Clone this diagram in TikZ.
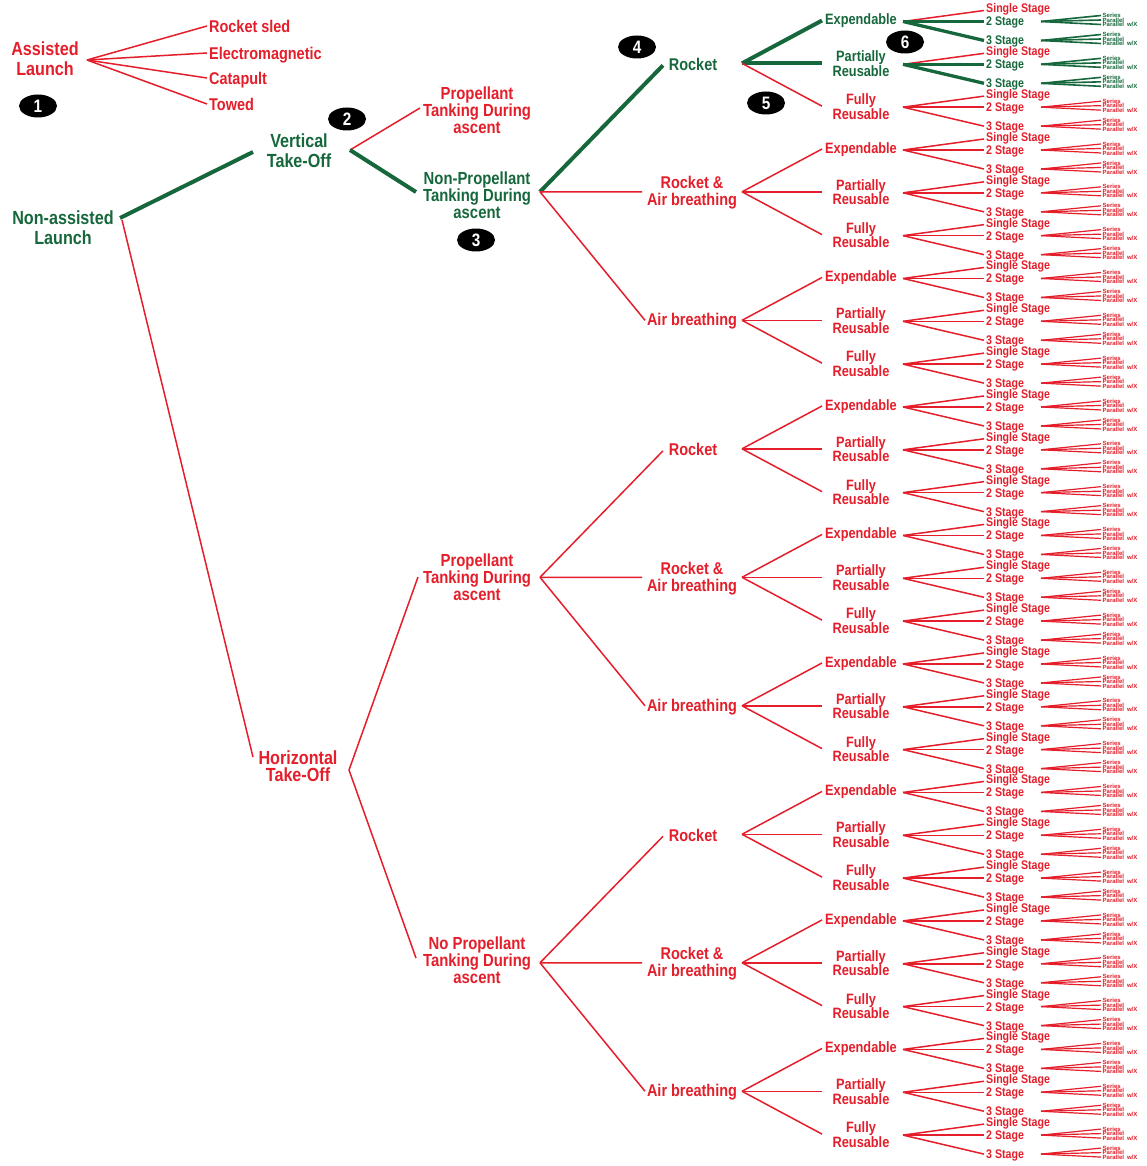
\documentclass[tikz,border=0pt]{standalone}
\usepackage{fontspec}
\setmainfont{Liberation Sans}[FakeStretch=0.85]
\newfontfamily\leaffont{Liberation Sans}
\usetikzlibrary{shapes.geometric}
\definecolor{rd}{RGB}{228,30,42}
\definecolor{gn}{RGB}{22,104,60}
\newcommand\pwxlabel{Parallel\hspace{3pt}w/X}
\begin{document}
\begin{tikzpicture}[x=1pt,y=-1pt,
  lbl/.style={inner sep=0pt, align=center},
  t0/.style={lbl, font=\fontsize{19}{20}\selectfont\bfseries},
  t0c/.style={inner sep=0pt, font=\fontsize{17}{17}\selectfont\bfseries, text height=12.2pt, text depth=0pt},
  t2/.style={lbl, font=\fontsize{17.5}{17}\selectfont\bfseries},
  t3/.style={lbl, font=\fontsize{17}{17}\selectfont\bfseries},
  t4/.style={lbl, font=\fontsize{15}{14.5}\selectfont\bfseries},
  t5/.style={inner sep=0pt, font=\fontsize{12.5}{12.5}\selectfont\bfseries, text height=9pt, text depth=0pt},
  t6/.style={inner sep=0pt, font=\leaffont\fontsize{6}{6}\selectfont\bfseries, text height=4.3pt, text depth=0pt},
  rl/.style={draw=rd, line width=1.5pt},
  gl/.style={draw=gn, line width=4pt},
  gs/.style={draw=gn, line width=3.3pt},
  rll/.style={draw=rd, line width=1.2pt},
  gll/.style={draw=gn, line width=1.6pt},
  badge/.style={ellipse, fill=black, minimum width=38pt, minimum height=23pt, inner sep=0pt, text=white, font=\fontsize{18}{18}\selectfont\bfseries}
]
\fill[white] (0,0) rectangle (1147,1166);
\useasboundingbox (0,0) rectangle (1147,1166);

% ---------- level 0: assisted launch ----------
\node[t0, text=rd] (al) at (45,59) {Assisted\\Launch};
\coordinate (alo) at (87,60);
\foreach \n/\t/\y in {rs/Rocket sled/26, em/Electromagnetic/53, ca/Catapult/78, tw/Towed/104}{
  \node[t0c, text=rd, anchor=west] (\n) at (209,\y) {\t};
  \coordinate (\n i) at (207,\y);
  \draw[rl] (alo) -- (\n i);
}

% ---------- non-assisted launch ----------
\node[t0, text=gn] (na) at (63,228) {Non-assisted\\Launch};
\coordinate (nao) at (120,218);
\coordinate (nao2) at (122,220);

\node[t0, text=gn] (vto) at (299,151) {Vertical\\Take-Off};
\coordinate (vtoi) at (253,152);
\coordinate (vtoo) at (350,150);
\draw[gl] (nao) -- (vtoi);

\node[t0, text=rd, font=\fontsize{19}{17}\selectfont\bfseries] (hto) at (298,766) {Horizontal\\Take-Off};
\coordinate (htoi) at (253,757);
\coordinate (htoo) at (349,770);
\draw[rl] (nao2) -- (htoi);

% ---------- tanking ----------
\node[t2, text=rd] (tv1) at (477,110) {Propellant\\Tanking During\\ascent};
\coordinate (tv1i) at (420,108);
\draw[rl] (vtoo) -- (tv1i);

\node[t2, text=gn] (tv2) at (477,195) {Non-Propellant\\Tanking During\\ascent};
\coordinate (tv2i) at (416,192);
\coordinate (tv2o) at (540,191.8);
\draw[gl] (vtoo) -- (tv2i);

\node[t2, text=rd] (th1) at (477,577) {Propellant\\Tanking During\\ascent};
\coordinate (th1i) at (418,577);
\coordinate (th1o) at (540,577.3);
\draw[rl] (htoo) -- (th1i);

\node[t2, text=rd] (th2) at (477,960) {No Propellant\\Tanking During\\ascent};
\coordinate (th2i) at (416,958);
\coordinate (th2o) at (540,962.8);
\draw[rl] (htoo) -- (th2i);

% ---------- propulsion, reuse, stages, configurations ----------
\foreach \g/\pnode in {0/tv2o,1/tv2o,2/tv2o,3/th1o,4/th1o,5/th1o,6/th2o,7/th2o,8/th2o}{
  \pgfmathsetmacro\py{20.5+42.83*(3*\g+1)}
  \pgfmathtruncatemacro\tp{mod(\g,3)}
  \pgfmathsetmacro\pty{\py+1}
  \ifnum\g=0 \def\pc{gn}\def\pls{gl}\else\def\pc{rd}\def\pls{rl}\fi
  \ifnum\tp=0
    \pgfmathsetmacro\piy{\py+2}
    \node[t3, text=\pc] (p\g) at (693,\pty) {Rocket};
    \coordinate (p\g i) at (663,\piy);
  \fi
  \ifnum\tp=1
    \node[t3, text=\pc] (p\g) at (692,\pty) {Rocket \&\\Air breathing};
    \coordinate (p\g i) at (642,\py);
  \fi
  \ifnum\tp=2
    \node[t3, text=\pc] (p\g) at (692,\pty) {Air breathing};
    \coordinate (p\g i) at (645,\py);
  \fi
  \draw[\pls] (\pnode) -- (p\g i);
  \coordinate (p\g o) at (742,\py);
  \foreach \i/\lab in {0/Expendable,1/{Partially\\Reusable},2/{Fully\\Reusable}}{
    \pgfmathtruncatemacro\k{3*\g+\i}
    \pgfmathsetmacro\ry{20.5+42.83*\k}
    \pgfmathsetmacro\rty{\ry+0.5}
    \pgfmathsetmacro\roy{\ry+1}
    \pgfmathtruncatemacro\isg{(\g==0)&&(\i<2)}
    \ifnum\isg=1 \def\cc{gn}\def\ls{gl}\else\def\cc{rd}\def\ls{rl}\fi
    \coordinate (r\k i) at (822,\ry);
    \coordinate (r\k o) at (903,\roy);
    \node[t4, text=\cc] (r\k) at (861,\rty) {\lab};
    \draw[\ls] (p\g o) -- (r\k i);
    \foreach \j/\sl/\dy/\dl in {1/Single Stage/-12/-10, 2/2 Stage/1/1, 3/3 Stage/20/20}{
      \pgfmathtruncatemacro\sg{(\isg==1)&&(\j>1)}
      \ifnum\sg=1 \def\sc{gn}\def\sls{gs}\def\lls{gll}\else\def\sc{rd}\def\sls{rl}\def\lls{rll}\fi
      \pgfmathsetmacro\sy{\ry+\dy}
      \pgfmathsetmacro\siy{\ry+\dl}
      \node[t5, text=\sc, anchor=west] (s\k-\j) at (986,\sy) {\sl};
      \coordinate (s\k-\j i) at (984,\siy);
      \draw[\sls] (r\k o) -- (s\k-\j i);
      \ifnum\j>1
        \coordinate (s\k-\j o) at (1041,\sy);
        \foreach \m/\leaf/\ly in {1/Series/-6, 2/Parallel/-1.5, 3/\pwxlabel/3}{
          \pgfmathsetmacro\fy{\sy+\ly}
          \coordinate (f\k-\j-\m i) at (1101,\fy);
          \node[t6, text=\sc, anchor=west] (f\k-\j-\m) at (1102.5,\fy) {\leaf};
          \draw[\lls] (s\k-\j o) -- (f\k-\j-\m i);
        }
      \fi
    }
  }
}

% ---------- numbered badges ----------
\node[badge] (b1) at (38,106) {1};
\node[badge] (b2) at (347,119) {2};
\node[badge] (b3) at (476,240) {3};
\node[badge] (b4) at (637,47) {4};
\node[badge] (b5) at (766,103) {5};
\node[badge] (b6) at (905,42) {6};
\end{tikzpicture}
\end{document}
